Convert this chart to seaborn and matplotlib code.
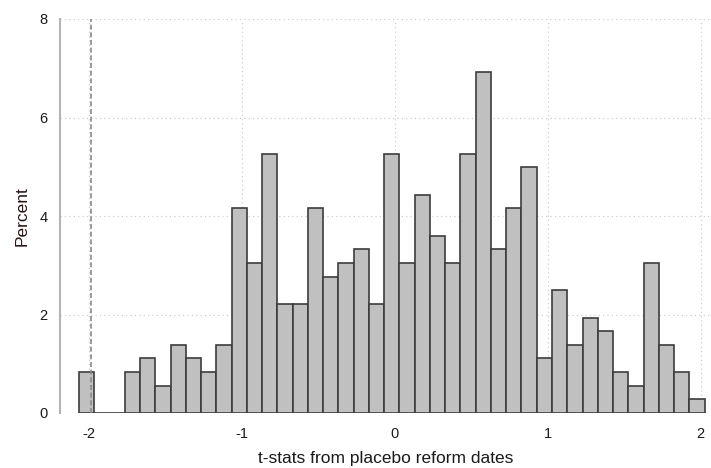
import numpy as np
import pandas as pd
import matplotlib
matplotlib.use("Agg")
import matplotlib.pyplot as plt
import seaborn as sns

# Histogram of placebo t-statistics: 41 equal-width bins spanning the observed range
t_min = -2.068
t_max = 2.026
n_bins = 41

# Observations per bin (361 placebo dates in total)
bin_counts = [3, 0, 0, 3, 4, 2, 5, 4, 3, 5,
              15, 11, 19, 8, 8, 15, 10, 11, 12, 8,
              19, 11, 16, 13, 11, 19, 25, 12, 15, 18,
              4, 9, 5, 7, 6, 3, 2, 11, 5, 3, 1]

x_ticks = [-2, -1, 0, 1, 2]
y_ticks = [0, 2, 4, 6, 8]
crit_value = -1.99

edges = np.linspace(t_min, t_max, n_bins + 1)
centers = (edges[:-1] + edges[1:]) / 2
counts = np.array(bin_counts, dtype=float)
df = pd.DataFrame({"tstat": centers, "percent": counts / counts.sum() * 100})

sns.set_style("white")
plt.rcParams["font.family"] = ["Liberation Sans", "DejaVu Sans"]

fig = plt.figure(figsize=(7.11, 4.68), dpi=100)
ax = fig.add_axes([60 / 711, 55 / 468, 651 / 711, 394 / 468])

grid_kw = dict(color="#cfcfcf", linestyle=(0, (1, 2.5)), linewidth=0.9, zorder=0)
for y in y_ticks:
    ax.axhline(y, **grid_kw)
for x in x_ticks:
    ax.axvline(x, **grid_kw)

sns.histplot(data=df, x="tstat", weights="percent", bins=n_bins,
             binrange=(t_min, t_max), stat="count",
             color="#c0c0c0", edgecolor="#3c3c3c", linewidth=1.2, alpha=1.0,
             ax=ax, zorder=2)

ax.axvline(crit_value, color="#8a8a8a", linestyle=(0, (3, 1.6)),
           linewidth=1.2, zorder=3)

ax.set_xlim(-2.192, 2.068)
ax.set_ylim(0, 8)
ax.set_xticks(x_ticks)
ax.set_yticks(y_ticks)
ax.set_xticklabels([str(v) for v in x_ticks])
ax.set_yticklabels([str(v) for v in y_ticks])

for side in ["top", "right", "bottom"]:
    ax.spines[side].set_visible(False)
ax.spines["left"].set_color("#b4b4b4")
ax.spines["left"].set_linewidth(1.5)

ax.tick_params(axis="y", length=6, width=1.2, color="#b4b4b4",
               labelsize=10.5, labelcolor="#1a1a1a", pad=3)
ax.tick_params(axis="x", length=5, width=1.0, color="#b4b4b4",
               labelsize=10.5, labelcolor="#1a1a1a", pad=5, direction="out")

ax.set_xlabel("t-stats from placebo reform dates", fontsize=12.5,
              color="#1a1a1a", labelpad=7)
ax.set_ylabel("Percent", fontsize=12.5, color="#2a1515", labelpad=7)

fig.savefig("out.png", dpi=100)
